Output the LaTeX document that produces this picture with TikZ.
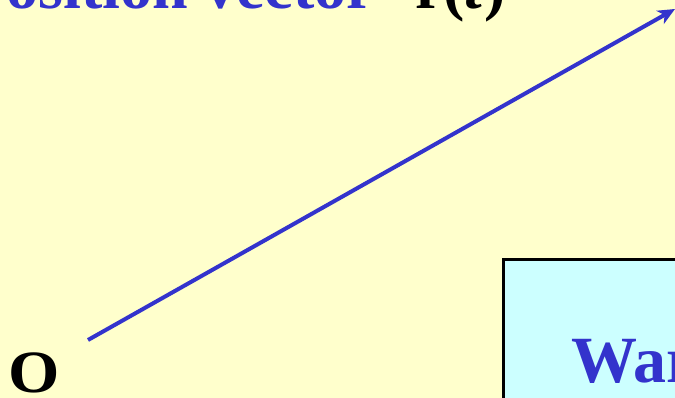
\documentclass[tikz,border=0pt]{standalone}
\usepackage{fontspec}
\setmainfont{Liberation Serif}
\usetikzlibrary{arrows.meta}
\definecolor{bg}{HTML}{FFFFCC}
\definecolor{vblue}{HTML}{3333CC}
\definecolor{boxfill}{HTML}{CCFFFF}
\tikzset{
  bluetext/.style={text=vblue, font=\fontsize{64}{64}\selectfont\bfseries, inner sep=0pt},
  blacktext/.style={text=black, font=\fontsize{64}{64}\selectfont\bfseries, inner sep=0pt},
  vec/.style={draw=vblue, line width=4pt, -{Stealth[length=17pt,width=15pt,inset=5pt]}},
  panel/.style={draw=black, line width=3pt, fill=boxfill}
}
\begin{document}
\begin{tikzpicture}[x=1pt,y=-1pt]
\useasboundingbox (0,0) rectangle (675,398);
\clip (0,0) rectangle (675,398);
\fill[bg] (0,0) rectangle (675,398);
\node[bluetext, anchor=base east] (title) at (375,9) {Position vector};
\node[blacktext, anchor=base west] (rt) at (415,9) {r(\textit{t})};
\coordinate (o) at (88,340);
\coordinate (tip) at (675,9);
\draw[vec] (o) -- (tip);
\node[text=black, font=\fontsize{60}{60}\selectfont\bfseries, inner sep=0pt, anchor=base west] (O) at (8,392) {\scalebox{1.1}[1]{O}};
\draw[panel] (503,260) rectangle (740,460);
\node[text=vblue, font=\fontsize{66}{66}\selectfont\bfseries, inner sep=0pt, anchor=base west] (war) at (571,382) {War};
\end{tikzpicture}
\end{document}
